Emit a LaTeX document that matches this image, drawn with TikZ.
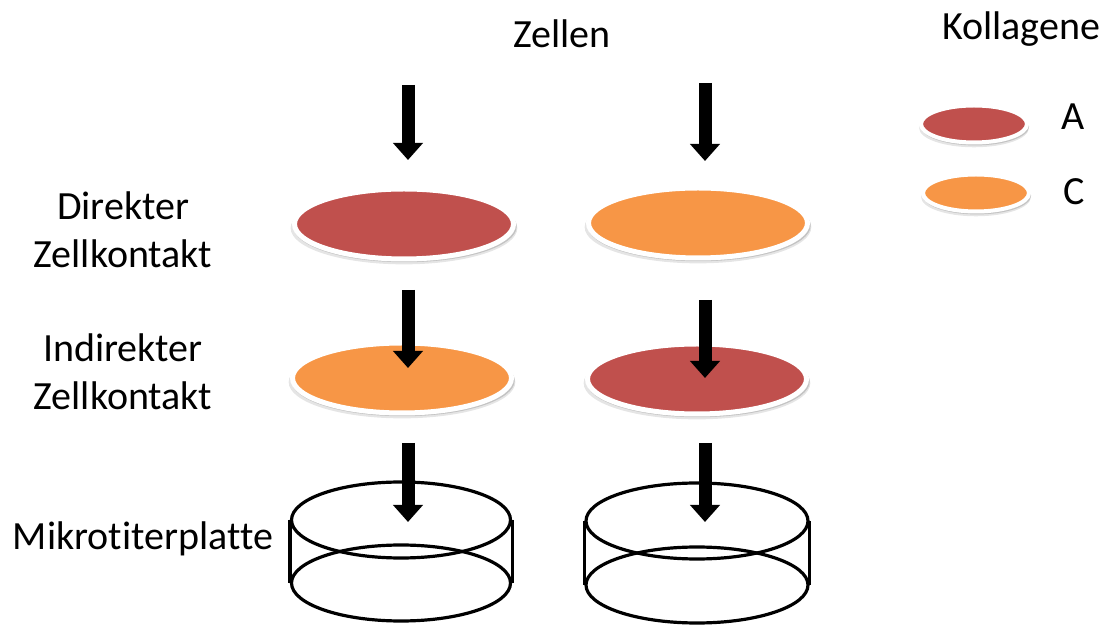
\documentclass[tikz,border=0pt]{standalone}
\usepackage{fontspec}
\setmainfont{Carlito}[Ligatures={NoCommon,NoRare}]
\usetikzlibrary{shapes.geometric,arrows.meta,shadows}
\definecolor{cred}{HTML}{C0504D}
\definecolor{corange}{HTML}{F79646}
\begin{document}
\begin{tikzpicture}[x=1pt,y=1pt,
  dish/.style={ellipse, draw=white, line width=5pt, inner sep=0pt,
    minimum width=219pt, minimum height=70pt,
    general shadow={shadow xshift=0pt, shadow yshift=-4pt, shadow scale=1.035, opacity=0.10, fill=black},
    drop shadow={shadow xshift=1pt, shadow yshift=-2.5pt, shadow scale=1.02, opacity=0.15, fill=black}},
  smalldish/.style={dish, line width=4pt, minimum width=106pt, minimum height=37pt},
  lbl/.style={font=\fontsize{40}{48}\selectfont, anchor=base, inner sep=0pt},
  bigarrow/.style={line width=13pt, -{Triangle[width=29pt,length=17pt]}},
  cyl/.style={line width=3.2pt},
  cylell/.style={ellipse, draw, cyl, inner sep=0pt, minimum height=76pt}]
\useasboundingbox (0,0) rectangle (1105,626);

% texts
\node[lbl] (zellen) at (562,578) {Zellen};
\node[lbl] (kollagene) at (1021,586) {Kollagene};
\node[lbl] (dir1) at (123,406) {Direkter};
\node[lbl] (dir2) at (123,358) {Zellkontakt};
\node[lbl] (ind1) at (123,264) {Indirekter};
\node[lbl] (ind2) at (123,216) {Zellkontakt};
\node[lbl] (mikro) at (143,76) {Mikrotiterplatte};
\node[lbl] (la) at (1073,496) {A};
\node[lbl] (lc) at (1074,421) {C};

% legend
\node[smalldish, fill=cred] (legA) at (974,502) {};
\node[smalldish, fill=corange] (legC) at (976,433) {};

% dishes
\node[dish, fill=cred] (L1) at (404,402) {};
\node[dish, fill=corange] (R1) at (698,403) {};
\node[dish, fill=corange] (L2) at (402,248) {};
\node[dish, fill=cred] (R2) at (697,247) {};

% cylinders
\node[cylell, minimum width=219pt] (LT) at (401,106) {};
\node[cylell, minimum width=219pt] (LB) at (401,43) {};
\draw[cyl] (LT.west) -- (LB.west) (LT.east) -- (LB.east);
\node[cylell, minimum width=222pt] (RT) at (697,105) {};
\node[cylell, minimum width=222pt] (RB) at (697,41) {};
\draw[cyl] (RT.west) -- (RB.west) (RT.east) -- (RB.east);

% arrows
\coordinate (la1s) at (408,541); \coordinate (la1e) at (408,466);
\coordinate (la2s) at (408,336); \coordinate (la2e) at (408,258);
\coordinate (la3s) at (408,183); \coordinate (la3e) at (408,104);
\coordinate (ra1s) at (705,543); \coordinate (ra1e) at (705,465);
\coordinate (ra2s) at (705,326); \coordinate (ra2e) at (705,248);
\coordinate (ra3s) at (705,183); \coordinate (ra3e) at (705,104);
\draw[bigarrow] (la1s) -- (la1e);
\draw[bigarrow] (la2s) -- (la2e);
\draw[bigarrow] (la3s) -- (la3e);
\draw[bigarrow] (ra1s) -- (ra1e);
\draw[bigarrow] (ra2s) -- (ra2e);
\draw[bigarrow] (ra3s) -- (ra3e);
\end{tikzpicture}
\end{document}
